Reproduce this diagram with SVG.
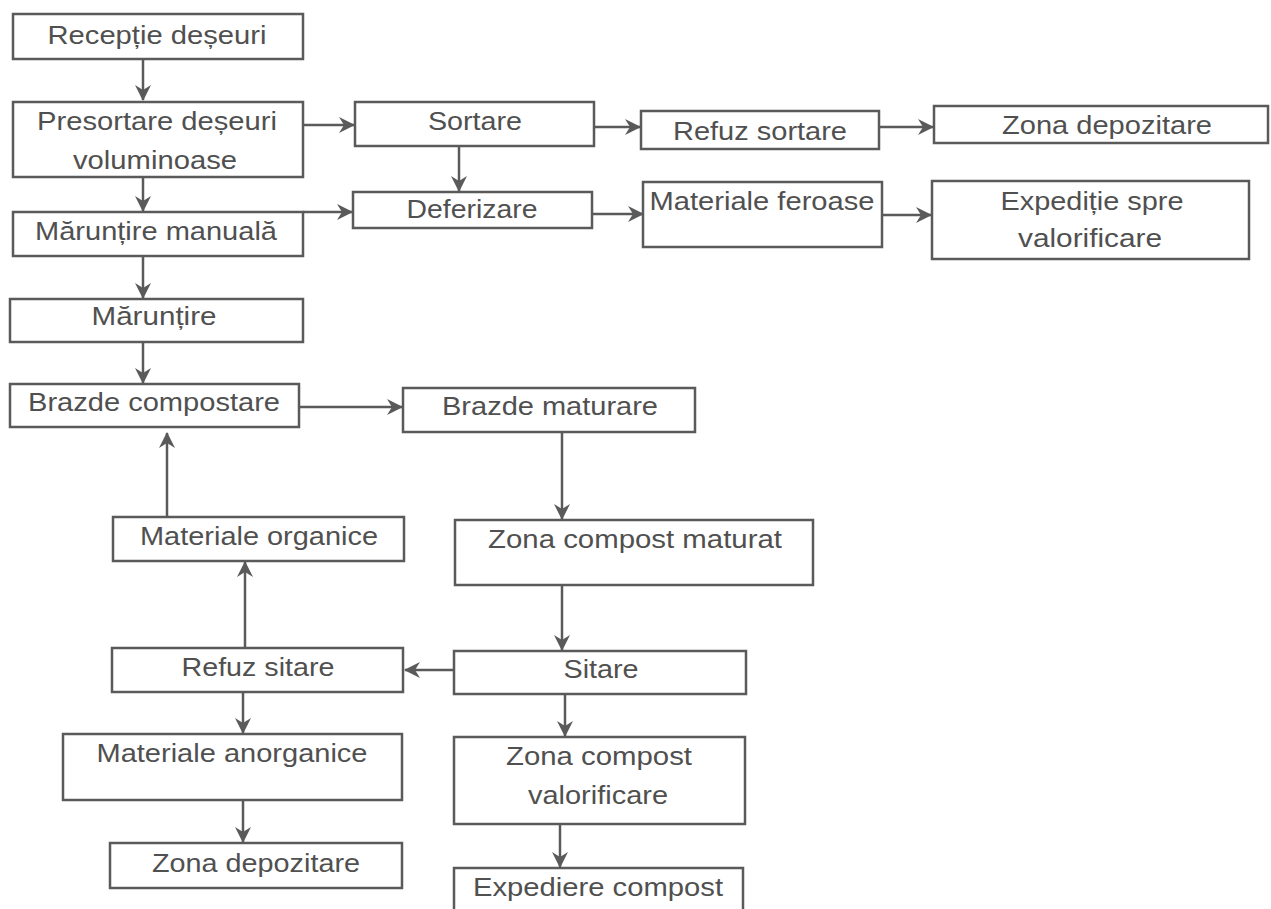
<svg xmlns="http://www.w3.org/2000/svg" width="1271" height="909" viewBox="0 0 1271 909">
<style>
.b{fill:#fff;stroke:#5a5a5a;stroke-width:2.5}
.t{font-family:"Liberation Sans",Arial,sans-serif;font-size:26px;fill:#505050;text-anchor:middle}
.c{fill:none;stroke:#5a5a5a;stroke-width:2.5}
</style>
<defs>
<marker id="ah" markerWidth="16" markerHeight="16" refX="15" refY="8" orient="auto" markerUnits="userSpaceOnUse">
<path d="M0,0 L16,8 L0,16 L5,8 z" fill="#5a5a5a"/>
</marker>
</defs>
<rect width="1271" height="909" fill="#fff"/>
<g id="connectors">
<path class="c" d="M143,59 V100" marker-end="url(#ah)"/>
<path class="c" d="M303,125 H354" marker-end="url(#ah)"/>
<path class="c" d="M143,165 V211" marker-end="url(#ah)"/>
<path class="c" d="M303,212 H352" marker-end="url(#ah)"/>
<path class="c" d="M143,256 V298" marker-end="url(#ah)"/>
<path class="c" d="M143,342 V383" marker-end="url(#ah)"/>
<path class="c" d="M299,407 H402" marker-end="url(#ah)"/>
<path class="c" d="M167,517 V433" marker-end="url(#ah)"/>
<path class="c" d="M245,648 V562" marker-end="url(#ah)"/>
<path class="c" d="M562,432 V519" marker-end="url(#ah)"/>
<path class="c" d="M562,585 V650" marker-end="url(#ah)"/>
<path class="c" d="M454,670 H405" marker-end="url(#ah)"/>
<path class="c" d="M243,692 V733" marker-end="url(#ah)"/>
<path class="c" d="M243,800 V842" marker-end="url(#ah)"/>
<path class="c" d="M565,694 V736" marker-end="url(#ah)"/>
<path class="c" d="M560,824 V867" marker-end="url(#ah)"/>
<path class="c" d="M459,146 V191" marker-end="url(#ah)"/>
<path class="c" d="M594,127 H640" marker-end="url(#ah)"/>
<path class="c" d="M592,214 H643" marker-end="url(#ah)"/>
<path class="c" d="M879,127 H933" marker-end="url(#ah)"/>
<path class="c" d="M882,215 H931" marker-end="url(#ah)"/>
</g>
<g id="n_receptie"><rect class="b" x="13" y="14" width="290" height="45"/><text class="t" x="157" y="44" textLength="219" lengthAdjust="spacingAndGlyphs">Recepție deșeuri</text></g>
<g id="n_presortare"><rect class="b" x="13" y="102" width="290" height="75"/><text class="t" x="157" y="130" textLength="240" lengthAdjust="spacingAndGlyphs">Presortare deșeuri</text><text class="t" x="155" y="169" textLength="164" lengthAdjust="spacingAndGlyphs">voluminoase</text></g>
<g id="n_maruntire_manuala"><rect class="b" x="13" y="212" width="290" height="44"/><text class="t" x="156" y="240" textLength="242" lengthAdjust="spacingAndGlyphs">Mărunțire manuală</text></g>
<g id="n_maruntire"><rect class="b" x="10" y="299" width="293" height="43"/><text class="t" x="154" y="325" textLength="125" lengthAdjust="spacingAndGlyphs">Mărunțire</text></g>
<g id="n_brazde_compostare"><rect class="b" x="10" y="384" width="289" height="43"/><text class="t" x="154" y="411" textLength="252" lengthAdjust="spacingAndGlyphs">Brazde compostare</text></g>
<g id="n_materiale_organice"><rect class="b" x="113" y="517" width="291" height="44"/><text class="t" x="259" y="545" textLength="238" lengthAdjust="spacingAndGlyphs">Materiale organice</text></g>
<g id="n_refuz_sitare"><rect class="b" x="112" y="648" width="291" height="44"/><text class="t" x="258" y="676" textLength="153" lengthAdjust="spacingAndGlyphs">Refuz sitare</text></g>
<g id="n_materiale_anorganice"><rect class="b" x="63" y="734" width="339" height="66"/><text class="t" x="232" y="762" textLength="271" lengthAdjust="spacingAndGlyphs">Materiale anorganice</text></g>
<g id="n_zona_depozitare_2"><rect class="b" x="110" y="843" width="292" height="45"/><text class="t" x="256" y="872" textLength="208" lengthAdjust="spacingAndGlyphs">Zona depozitare</text></g>
<g id="n_sortare"><rect class="b" x="355" y="102" width="239" height="44"/><text class="t" x="475" y="130" textLength="94" lengthAdjust="spacingAndGlyphs">Sortare</text></g>
<g id="n_deferizare"><rect class="b" x="353" y="192" width="239" height="36"/><text class="t" x="472" y="218" textLength="131" lengthAdjust="spacingAndGlyphs">Deferizare</text></g>
<g id="n_refuz_sortare"><rect class="b" x="641" y="111" width="238" height="38"/><text class="t" x="760" y="140" textLength="174" lengthAdjust="spacingAndGlyphs">Refuz sortare</text></g>
<g id="n_materiale_feroase"><rect class="b" x="643" y="182" width="239" height="65"/><text class="t" x="762" y="210" textLength="225" lengthAdjust="spacingAndGlyphs">Materiale feroase</text></g>
<g id="n_zona_depozitare_1"><rect class="b" x="934" y="106" width="334" height="37"/><text class="t" x="1107" y="134" textLength="210" lengthAdjust="spacingAndGlyphs">Zona depozitare</text></g>
<g id="n_expeditie"><rect class="b" x="932" y="181" width="317" height="78"/><text class="t" x="1092" y="210" textLength="183" lengthAdjust="spacingAndGlyphs">Expediție spre</text><text class="t" x="1090" y="247" textLength="144" lengthAdjust="spacingAndGlyphs">valorificare</text></g>
<g id="n_brazde_maturare"><rect class="b" x="403" y="388" width="292" height="44"/><text class="t" x="550" y="415" textLength="216" lengthAdjust="spacingAndGlyphs">Brazde maturare</text></g>
<g id="n_zona_compost_maturat"><rect class="b" x="455" y="520" width="358" height="65"/><text class="t" x="635" y="548" textLength="294" lengthAdjust="spacingAndGlyphs">Zona compost maturat</text></g>
<g id="n_sitare"><rect class="b" x="454" y="651" width="292" height="43"/><text class="t" x="601" y="678" textLength="75" lengthAdjust="spacingAndGlyphs">Sitare</text></g>
<g id="n_zona_compost_valorificare"><rect class="b" x="454" y="737" width="291" height="87"/><text class="t" x="599" y="765" textLength="186" lengthAdjust="spacingAndGlyphs">Zona compost</text><text class="t" x="598" y="804" textLength="140" lengthAdjust="spacingAndGlyphs">valorificare</text></g>
<g id="n_expediere_compost"><rect class="b" x="454" y="868" width="289" height="50"/><text class="t" x="598" y="896" textLength="250" lengthAdjust="spacingAndGlyphs">Expediere compost</text></g>
</svg>
